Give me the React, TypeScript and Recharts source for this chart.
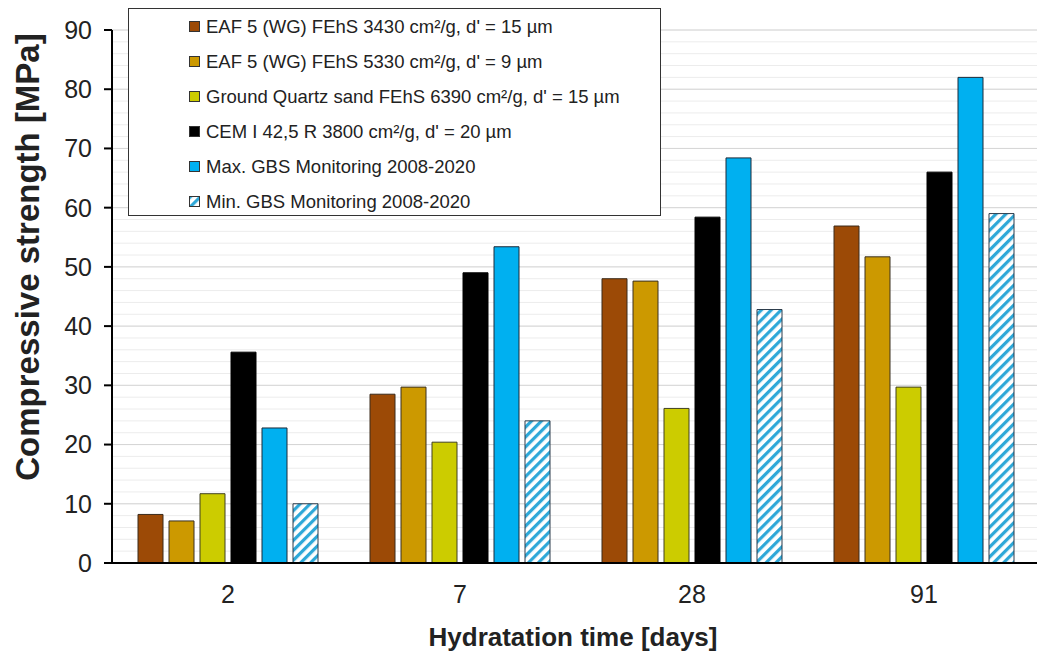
import { BarChart, Bar, XAxis, YAxis, CartesianGrid, Legend, Label } from "recharts";

const days = ["2", "7", "28", "91"];
const eafCoarse = [8.2, 28.5, 48.0, 56.9];
const eafFine = [7.1, 29.7, 47.6, 51.7];
const quartz = [11.7, 20.4, 26.1, 29.7];
const cem = [35.6, 49.0, 58.4, 66.0];
const gbsMax = [22.8, 53.4, 68.4, 82.0];
const gbsMin = [10.0, 24.0, 42.8, 59.0];
const yTicks = [0, 10, 20, 30, 40, 50, 60, 70, 80, 90];

const series = [
  { key: "eafCoarse", name: "EAF 5 (WG) FEhS 3430 cm²/g, d' = 15 µm", values: eafCoarse, fill: "#9c4a06", stroke: "#3a2a1a" },
  { key: "eafFine", name: "EAF 5 (WG) FEhS 5330 cm²/g, d' = 9 µm", values: eafFine, fill: "#cc9900", stroke: "#3a3020" },
  { key: "quartz", name: "Ground Quartz sand FEhS 6390 cm²/g, d' = 15 µm", values: quartz, fill: "#cccc00", stroke: "#404020" },
  { key: "cem", name: "CEM I 42,5 R 3800 cm²/g, d' = 20 µm", values: cem, fill: "#000000", stroke: "#000000" },
  { key: "gbsMax", name: "Max. GBS Monitoring 2008-2020", values: gbsMax, fill: "#00b0f0", stroke: "#1a2a3a" },
  { key: "gbsMin", name: "Min. GBS Monitoring 2008-2020", values: gbsMin, fill: "url(#hatch)", stroke: "#2a3a4a" },
];

const data = days.map((d, i) => {
  const row: Record<string, string | number> = { day: d };
  series.forEach((s) => {
    row[s.key] = s.values[i];
  });
  return row;
});

// minor grid every 2 MPa
const minorLines = Array.from({ length: 46 }, (_, i) => i * 2);

const font = "Arial, 'Liberation Sans', sans-serif";

function LegendBox() {
  return (
    <div
      style={{
        width: 533,
        height: 208,
        boxSizing: "border-box",
        border: "1px solid #333",
        background: "#fff",
        paddingTop: 0,
        fontFamily: font,
        fontSize: 18.5,
        color: "#222",
      }}
    >
      {series.map((s) => (
        <div key={s.key} style={{ display: "flex", alignItems: "center", height: 35, paddingLeft: 60 }}>
          <svg width={11} height={11} style={{ marginRight: 6 }}>
            <rect x={0.5} y={0.5} width={10} height={10} fill={s.fill} stroke="#333" />
          </svg>
          <span>{s.name}</span>
        </div>
      ))}
    </div>
  );
}

export default function App() {
  return (
    <div style={{ position: "absolute", left: 0, top: 0, width: 1037, height: 653, background: "#fff", overflow: "hidden" }}>
      <svg width={0} height={0} style={{ position: "absolute" }}>
        <defs>
          <pattern id="hatch" width={7} height={7} patternUnits="userSpaceOnUse" patternTransform="rotate(45)">
            <rect width={7} height={7} fill="#ffffff" />
            <rect width={3.2} height={7} fill="#2ea8d8" />
          </pattern>
        </defs>
      </svg>
      <BarChart
        width={1037}
        height={653}
        data={data}
        margin={{ top: 30, right: -3, left: 0, bottom: 0 }}
        barSize={25}
        barGap={6}
      >
        <CartesianGrid vertical={false} horizontalValues={minorLines} stroke="#ececec" />
        <CartesianGrid vertical={false} horizontalValues={yTicks} stroke="#d6d6d6" />
        <XAxis
          dataKey="day"
          height={90}
          tickLine={false}
          tickSize={0}
          tickMargin={22}
          axisLine={{ stroke: "#000", strokeWidth: 2 }}
          tick={{ fontSize: 25, fill: "#222", fontFamily: font }}
        >
          <Label
            content={() => (
              <text x={573} y={637} textAnchor="middle" dominantBaseline="central" fontFamily={font} fontWeight="bold" fontSize={26} fill="#222">
                Hydratation time [days]
              </text>
            )}
          />
        </XAxis>
        <YAxis
          width={112}
          domain={[0, 90]}
          ticks={yTicks}
          interval={0}
          tickSize={8}
          tickMargin={12}
          tickLine={{ stroke: "#000", strokeWidth: 2 }}
          axisLine={{ stroke: "#000", strokeWidth: 2 }}
          tick={{ fontSize: 25, fill: "#222", fontFamily: font }}
        >
          <Label
            content={() => (
              <text
                x={27}
                y={257}
                transform="rotate(-90 27 257)"
                textAnchor="middle"
                dominantBaseline="central"
                fontFamily={font}
                fontWeight="bold"
                fontSize={33}
                fill="#222"
              >
                Compressive strength [MPa]
              </text>
            )}
          />
        </YAxis>
        <Legend
          layout="vertical"
          align="center"
          verticalAlign="middle"
          wrapperStyle={{ left: 128, top: 8, width: 533, height: 208 }}
          content={() => <LegendBox />}
        />
        {series.map((s) => (
          <Bar
            key={s.key}
            dataKey={s.key}
            name={s.name}
            fill={s.fill}
            stroke={s.stroke}
            strokeWidth={1}
            isAnimationActive={false}
          />
        ))}
      </BarChart>
    </div>
  );
}
